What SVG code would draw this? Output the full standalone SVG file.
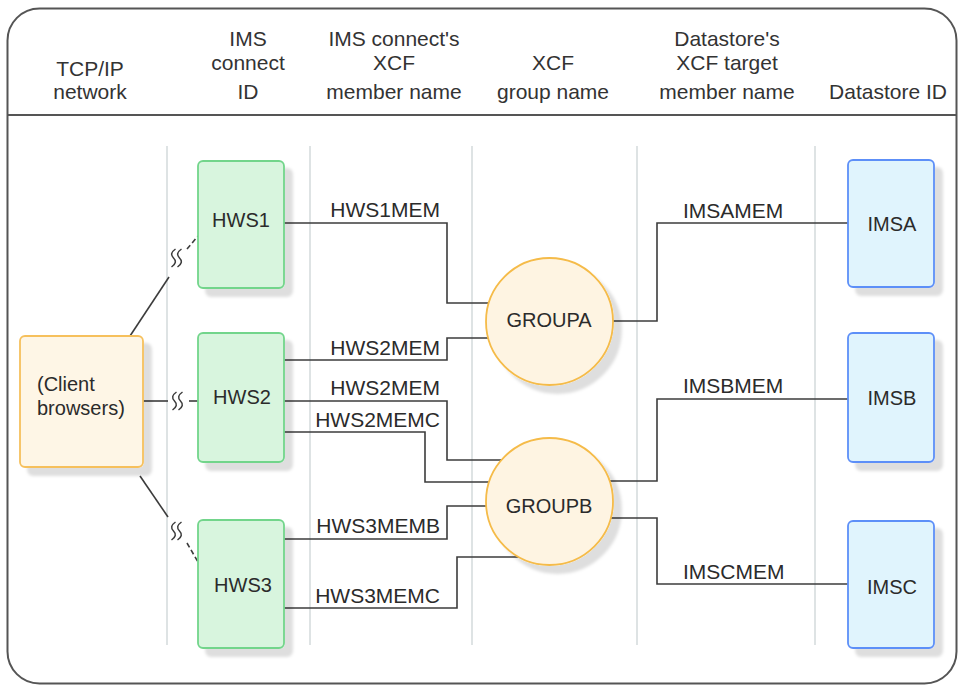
<svg xmlns="http://www.w3.org/2000/svg" width="960" height="688" viewBox="0 0 960 688">
<defs>
<filter id="sh" x="-20%" y="-20%" width="150%" height="150%">
<feDropShadow dx="8" dy="8" stdDeviation="1.5" flood-color="#000" flood-opacity="0.13"/>
</filter>
<g id="brk">
<path d="M2.5,-9 Q-4,-4.5 0.5,0 Q5,4.5 -1.5,9"/>
<path d="M8.5,-9 Q2,-4.5 6.5,0 Q11,4.5 4.5,9"/>
</g>
</defs>
<style>
text{font-family:"Liberation Sans",Arial,sans-serif;fill:#2b2b2b}
.hd{font-size:21px;text-anchor:middle;fill:#333}
.nl{font-size:20px;text-anchor:middle}
.cl{font-size:21px}
.col{stroke:#c8d0d2;stroke-width:1.2}
.ln{fill:none;stroke:#3c3c3c;stroke-width:1.6}
.dash{fill:none;stroke:#3c3c3c;stroke-width:1.6;stroke-dasharray:5 3}
.brk{fill:none;stroke:#3c3c3c;stroke-width:1.5}
.g{fill:#d8f5de;stroke:#72d58b;stroke-width:1.8}
.b{fill:#e0f4fd;stroke:#5d8ff8;stroke-width:1.8}
.o{fill:#fef6e6;stroke:#f6c05c;stroke-width:1.8}
.c{fill:#fef4e2;stroke:#f5bb48;stroke-width:1.8}
</style>
<rect x="0" y="0" width="960" height="688" fill="#ffffff"/>
<rect x="7.5" y="8.5" width="949" height="675" rx="32" ry="32" fill="#ffffff" stroke="#555" stroke-width="2"/>
<line x1="7.5" y1="115" x2="956.5" y2="115" stroke="#555" stroke-width="1.8"/>

<g id="headers">
<text class="hd" x="90" y="76">TCP/IP</text>
<text class="hd" x="90" y="99">network</text>
<text class="hd" x="248" y="46">IMS</text>
<text class="hd" x="248" y="70">connect</text>
<text class="hd" x="248" y="99">ID</text>
<text class="hd" x="394" y="46">IMS connect's</text>
<text class="hd" x="394" y="70">XCF</text>
<text class="hd" x="394" y="99">member name</text>
<text class="hd" x="553" y="70">XCF</text>
<text class="hd" x="553" y="99">group name</text>
<text class="hd" x="727" y="46">Datastore's</text>
<text class="hd" x="727" y="70">XCF target</text>
<text class="hd" x="727" y="99">member name</text>
<text class="hd" x="888" y="99">Datastore ID</text>
</g>

<g id="columns">
<line class="col" x1="167" y1="146" x2="167" y2="645"/>
<line class="col" x1="310" y1="146" x2="310" y2="645"/>
<line class="col" x1="472" y1="146" x2="472" y2="645"/>
<line class="col" x1="637" y1="146" x2="637" y2="645"/>
<line class="col" x1="815" y1="146" x2="815" y2="645"/>
</g>

<g id="connectors">
<polyline class="ln" points="284,223 447,223 447,303 489,303"/>
<polyline class="ln" points="284,360 447,360 447,338 488,338"/>
<polyline class="ln" points="284,401 447,401 447,460 502,460"/>
<polyline class="ln" points="284,432 425,432 425,482 489,482"/>
<polyline class="ln" points="284,539 447,539 447,506 486,506"/>
<polyline class="ln" points="284,608 457,608 457,557 519,557"/>
<polyline class="ln" points="613,321 657,321 657,223 848,223"/>
<polyline class="ln" points="610,481 657,481 657,399 848,399"/>
<polyline class="ln" points="611,518 657,518 657,584 848,584"/>
<line class="ln" x1="130" y1="336" x2="169" y2="277"/>
<line class="dash" x1="187" y1="249" x2="198" y2="236"/>
<use href="#brk" class="brk" x="173" y="258"/>
<line class="ln" x1="143" y1="401" x2="168" y2="401"/>
<line class="ln" x1="189" y1="401" x2="198" y2="401"/>
<use href="#brk" class="brk" x="174" y="401"/>
<line class="ln" x1="140" y1="476" x2="168" y2="517"/>
<line class="dash" x1="187" y1="543" x2="198" y2="562"/>
<use href="#brk" class="brk" x="173" y="531"/>
<text class="cl" x="440" y="217" text-anchor="end">HWS1MEM</text>
<text class="cl" x="440" y="355" text-anchor="end">HWS2MEM</text>
<text class="cl" x="440" y="395" text-anchor="end">HWS2MEM</text>
<text class="cl" x="440" y="427" text-anchor="end">HWS2MEMC</text>
<text class="cl" x="440" y="533" text-anchor="end">HWS3MEMB</text>
<text class="cl" x="440" y="603" text-anchor="end">HWS3MEMC</text>
<text class="cl" x="683" y="218">IMSAMEM</text>
<text class="cl" x="683" y="393">IMSBMEM</text>
<text class="cl" x="683" y="579">IMSCMEM</text>
</g>

<g id="client">
<rect class="o" x="20" y="336" width="123" height="131" rx="5" filter="url(#sh)"/>
<text x="37" y="391" style="font-size:20px">(Client</text>
<text x="37" y="415" style="font-size:20px">browsers)</text>
</g>
<g id="hws1">
<rect class="g" x="198" y="161" width="86" height="127" rx="5" filter="url(#sh)"/>
<text class="nl" x="241" y="227">HWS1</text>
</g>
<g id="hws2">
<rect class="g" x="198" y="333" width="86" height="129" rx="5" filter="url(#sh)"/>
<text class="nl" x="242" y="404">HWS2</text>
</g>
<g id="hws3">
<rect class="g" x="198" y="520" width="86" height="128" rx="5" filter="url(#sh)"/>
<text class="nl" x="243" y="592">HWS3</text>
</g>
<g id="groupa">
<circle class="c" cx="549.5" cy="321.5" r="63.5" filter="url(#sh)"/>
<text class="nl" x="549" y="327">GROUPA</text>
</g>
<g id="groupb">
<circle class="c" cx="549.5" cy="501.5" r="63.5" filter="url(#sh)"/>
<text class="nl" x="549" y="513">GROUPB</text>
</g>
<g id="imsa">
<rect class="b" x="848" y="160" width="86" height="127" rx="5" filter="url(#sh)"/>
<text class="nl" x="892" y="231">IMSA</text>
</g>
<g id="imsb">
<rect class="b" x="848" y="333" width="86" height="129" rx="5" filter="url(#sh)"/>
<text class="nl" x="892" y="405">IMSB</text>
</g>
<g id="imsc">
<rect class="b" x="848" y="521" width="86" height="127" rx="5" filter="url(#sh)"/>
<text class="nl" x="892" y="594">IMSC</text>
</g>
</svg>
